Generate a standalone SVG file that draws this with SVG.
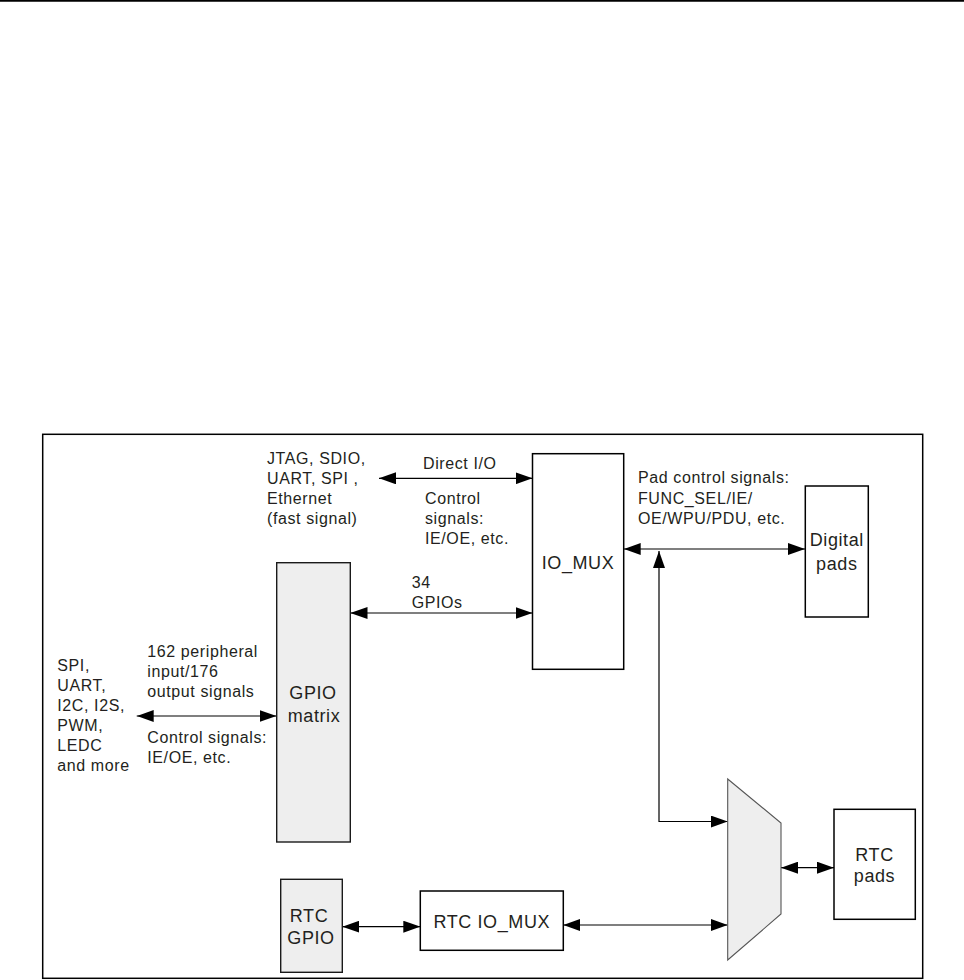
<svg xmlns="http://www.w3.org/2000/svg" width="964" height="980" viewBox="0 0 964 980">
<defs>
<style>
.box{fill:#fff;stroke:#000;stroke-width:1.5}
.gbox{fill:#eeeeee;stroke:#1a1a1a;stroke-width:1.4}
.lbl{font-family:"Liberation Sans",Arial,sans-serif;font-size:16px;letter-spacing:0.6px;fill:#231f20}
.nd{font-family:"Liberation Sans",Arial,sans-serif;font-size:18px;letter-spacing:0.6px;fill:#231f20;text-anchor:middle}
.cn{fill:none;stroke:#000;stroke-width:1.2}
.dbl{marker-start:url(#ah);marker-end:url(#ah)}
.one{marker-end:url(#ah)}
</style>
<marker id="ah" markerUnits="userSpaceOnUse" markerWidth="17" markerHeight="12" refX="17" refY="6" orient="auto-start-reverse" viewBox="0 0 17 12">
<path d="M0,0 L17,6 L0,12 z" fill="#000"/>
</marker>
</defs>
<rect width="964" height="980" fill="#fff"/>
<line x1="0" y1="0.9" x2="964" y2="0.9" stroke="#000" stroke-width="1.8"/>
<rect x="42.7" y="434.3" width="880" height="544" fill="none" stroke="#000" stroke-width="1.5"/>

<g id="connectors">
<path class="cn dbl" d="M379,478.3 H532.5"/>
<path class="cn dbl" d="M350.5,613 H532.5"/>
<path class="cn dbl" d="M136.7,716 H276.5"/>
<path class="cn dbl" d="M623.7,549 H805"/>
<path class="cn" d="M659,551 V821.5 H727.7" marker-start="url(#ah)" marker-end="url(#ah)"/>
<path class="cn dbl" d="M781,867.7 H834"/>
<path class="cn dbl" d="M342.3,926.7 H420.3"/>
<path class="cn dbl" d="M563.3,925 H727.7"/>
</g>

<g id="labels">
<text class="lbl" x="267" y="464">JTAG, SDIO,</text>
<text class="lbl" x="267" y="484">UART, SPI ,</text>
<text class="lbl" x="267" y="504">Ethernet</text>
<text class="lbl" x="267" y="524">(fast signal)</text>
<text class="lbl" x="423" y="469">Direct I/O</text>
<text class="lbl" x="425" y="503.5">Control</text>
<text class="lbl" x="425" y="524">signals:</text>
<text class="lbl" x="425" y="544">IE/OE, etc.</text>
<text class="lbl" x="411.7" y="588">34</text>
<text class="lbl" x="411.7" y="608">GPIOs</text>
<text class="lbl" x="638" y="483">Pad control signals:</text>
<text class="lbl" x="638" y="503.5">FUNC_SEL/IE/</text>
<text class="lbl" x="638" y="524">OE/WPU/PDU, etc.</text>
<text class="lbl" x="147.3" y="657">162 peripheral</text>
<text class="lbl" x="147.3" y="677">input/176</text>
<text class="lbl" x="147.3" y="697">output signals</text>
<text class="lbl" x="147.3" y="743">Control signals:</text>
<text class="lbl" x="147.3" y="763">IE/OE, etc.</text>
<text class="lbl" x="57.3" y="670.5">SPI,</text>
<text class="lbl" x="57.3" y="691">UART,</text>
<text class="lbl" x="57.3" y="711">I2C, I2S,</text>
<text class="lbl" x="57.3" y="731">PWM,</text>
<text class="lbl" x="57.3" y="751">LEDC</text>
<text class="lbl" x="57.3" y="771">and more</text>
</g>

<g id="io_mux">
<rect class="box" x="532.5" y="453.7" width="91.2" height="215.6"/>
<text class="nd" x="578" y="569">IO_MUX</text>
</g>

<g id="gpio_matrix">
<rect class="gbox" x="276.7" y="562.7" width="73.6" height="279.3"/>
<text class="nd" x="313" y="699">GPIO</text>
<text class="nd" x="314" y="721.7">matrix</text>
</g>

<g id="digital_pads">
<rect class="box" x="805.3" y="486" width="63" height="131"/>
<text class="nd" x="836.8" y="546">Digital</text>
<text class="nd" x="836.8" y="569.5">pads</text>
</g>

<g id="rtc_mux">
<polygon points="727.7,779 781,823 781,914 727.7,960" fill="#eeeeee" stroke="#555" stroke-width="1.1"/>
</g>

<g id="rtc_pads">
<rect class="box" x="834" y="809.3" width="81.3" height="110"/>
<text class="nd" x="874.5" y="860.7">RTC</text>
<text class="nd" x="874.5" y="882">pads</text>
</g>

<g id="rtc_gpio">
<rect class="gbox" x="280.7" y="879.3" width="61.6" height="93"/>
<text class="nd" x="309" y="921.7">RTC</text>
<text class="nd" x="311" y="944">GPIO</text>
</g>

<g id="rtc_io_mux">
<rect class="box" x="420.3" y="891" width="143" height="59.3"/>
<text class="nd" x="491.8" y="928.3">RTC IO_MUX</text>
</g>
</svg>
